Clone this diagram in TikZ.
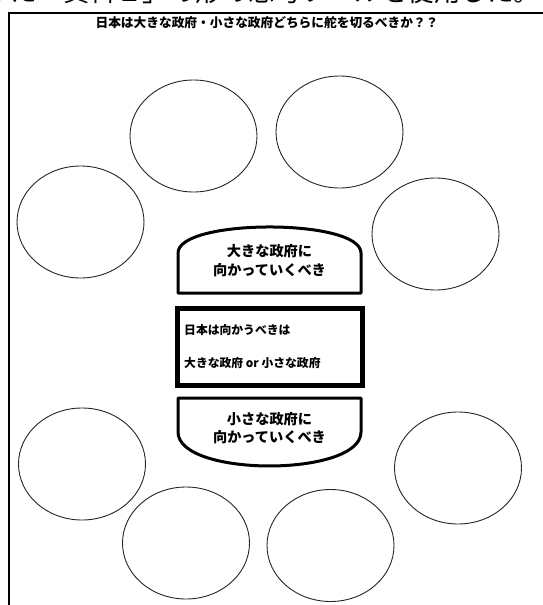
\documentclass[tikz,border=0pt]{standalone}
\usepackage{fontspec}
\setmainfont{Noto Sans CJK JP}
\usetikzlibrary{shapes.geometric}
\tikzset{
  bubble/.style={draw=black!85, line width=0.9pt, ellipse, minimum width=127pt, minimum height=112pt, inner sep=0pt},
  frameline/.style={line width=2.6pt},
  capbox/.style={line width=3pt, line join=round},
  midbox/.style={line width=5pt},
  jtext/.style={inner sep=0pt, font=\bfseries\fontsize{14.2}{19}\selectfont},
  midtext/.style={inner sep=0pt, anchor=west, font=\bfseries\fontsize{11.8}{14}\selectfont},
}
\begin{document}
\begin{tikzpicture}[x=1pt,y=-1pt]
\useasboundingbox (0,0) rectangle (542,605);
\fill[white] (0,0) rectangle (542,605);
% clipped caption line from the page above
\node[inner sep=0pt, anchor=base west, font=\fontsize{26.5}{30}\selectfont] (caption) at (-16.5,1.5) {った「資料２」の形の思考ツールを使用した。};
% frame
\draw[frameline] (9,615) -- (9,13) -- (550,13);
% title
\node[inner sep=0pt, font=\bfseries\fontsize{12.7}{15}\selectfont] (title) at (267,23) {日本は大きな政府・小さな政府どちらに舵を切るべきか？？};
% bubbles
\node[bubble] (e1) at (193.5,136) {};
\node[bubble] (e2) at (339.5,132) {};
\node[bubble] (e3) at (80.5,222) {};
\node[bubble] (e4) at (435.5,234) {};
\node[bubble] (e5) at (82,464) {};
\node[bubble] (e6) at (186,543) {};
\node[bubble] (e7) at (330.5,545.5) {};
\node[bubble] (e8) at (458,468) {};
% top capped box
\draw[capbox] (178,293) -- (178,253) .. controls (178,218.3) and (361,218.3) .. (361,253) -- (361,293) -- cycle;
\node[jtext] (big1) at (269.5,251) {大きな政府に};
\node[jtext] (big2) at (269.5,270) {向かっていくべき};
% middle box
\draw[midbox] (177,308) rectangle (362,385);
\node[midtext] (q1) at (184,330) {日本は向かうべきは};
\node[midtext] (q2) at (184,363) {大きな政府 or 小さな政府};
% bottom capped box
\draw[capbox] (178,398) -- (178,432) .. controls (178,477.3) and (361,477.3) .. (361,432) -- (361,398) -- cycle;
\node[jtext] (small1) at (269.5,419) {小さな政府に};
\node[jtext] (small2) at (269.5,437) {向かっていくべき};
\end{tikzpicture}
\end{document}
